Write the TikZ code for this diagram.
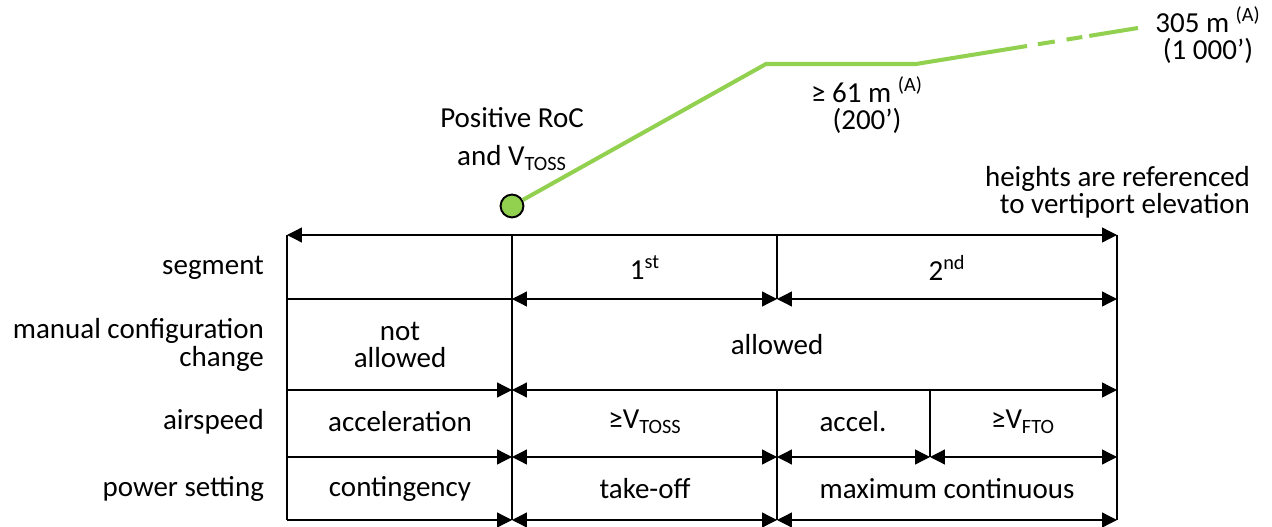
\documentclass[tikz,border=0pt]{standalone}
\usepackage{fontspec}
\setmainfont{Carlito}
\usetikzlibrary{arrows.meta}
\definecolor{climbgreen}{RGB}{146,208,80}
\begin{document}
\begin{tikzpicture}[x=0.02cm,y=-0.02cm,
  font=\fontsize{16.5}{15.5}\selectfont,
  sepline/.style={line width=1.1pt},
  rowline/.style={line width=0.75pt},
  dimboth/.style={rowline,{Triangle[length=8.5pt,width=8.5pt]}-{Triangle[length=8.5pt,width=8.5pt]}},
  dimright/.style={rowline,-{Triangle[length=8.5pt,width=8.5pt]}},
  climb/.style={climbgreen,line width=2.3pt},
  cell/.style={align=center,inner sep=1pt},
  rowlabel/.style={anchor=east,align=right,inner sep=1pt}]
\useasboundingbox (0,0) rectangle (1272,527);
% Grid Corners
\foreach \c/\x in {a/287,b/512,c/777,d/930,e/1117}
  \foreach \r/\y in {0/235,1/299,2/390,3/457,4/520}
    \coordinate (\c\r) at (\x,\y);
% Column Separators
\draw[sepline] (a0) -- (a4);
\draw[sepline] (b0) -- (b4);
\draw[sepline] (c0) -- (c1);
\draw[sepline] (c2) -- (c4);
\draw[sepline] (d2) -- (d3);
\draw[sepline] (e0) -- (e4);
% Dimension Arrows
\draw[dimboth] (a0) -- (e0);
%
\draw[rowline] (a1) -- (b1);
\draw[dimboth] (b1) -- (c1);
\draw[dimboth] (c1) -- (e1);
%
\draw[dimright] (a2) -- (b2);
\draw[dimboth] (b2) -- (e2);
%
\draw[dimright] (a3) -- (b3);
\draw[dimboth] (b3) -- (c3);
\draw[dimboth] (c3) -- (d3);
\draw[dimboth] (d3) -- (e3);
%
\draw[dimright] (a4) -- (b4);
\draw[dimboth] (b4) -- (c4);
\draw[dimboth] (c4) -- (e4);
% Row Labels
\node[rowlabel] (segLbl) at (266,268) {segment};
\node[rowlabel] (cfgLbl) at (266,345) {manual configuration\\change};
\node[rowlabel] (spdLbl) at (266,422) {airspeed};
\node[rowlabel] (pwrLbl) at (266,489) {power setting};
% Cell Texts
\node[cell] (segOne) at (645,268) {1\textsuperscript{st}};
\node[cell] (segTwo) at (947,268) {2\textsuperscript{nd}};
\node[cell] (cfgNo) at (400,345) {not\\allowed};
\node[cell] (cfgYes) at (777,345) {allowed};
\node[cell] (spdAcc) at (400,422) {acceleration};
\node[cell] (spdToss) at (645,422) {≥V\textsubscript{TOSS}};
\node[cell] (spdAccel) at (853,422) {accel.};
\node[cell] (spdFto) at (1023,422) {≥V\textsubscript{FTO}};
\node[cell] (pwrCont) at (400,489) {contingency};
\node[cell] (pwrTo) at (645,489) {take-off};
\node[cell] (pwrMax) at (947,489) {maximum continuous};
% Flight Path
\coordinate (kneeA) at (766,64);
\coordinate (kneeB) at (916,64);
\coordinate (solidEnd) at (1027,46);
\coordinate (pathEnd) at (1138,28);
\node[circle,draw=black,line width=1.1pt,fill=climbgreen,minimum size=13pt,inner sep=0pt] (liftoff) at (512,206) {};
\draw[climb] (liftoff) -- (kneeA) -- (kneeB) -- (solidEnd);
\draw[climb,dash pattern=on 0pt off 6.3pt on 9.7pt off 6.8pt on 9.1pt off 4pt on 27.3pt] (solidEnd) -- (pathEnd);
% Height Labels
\node[cell] (rocLbl) at (512,139) {Positive RoC\\[6pt]and V\textsubscript{TOSS}};
\node[cell] (firstHt) at (867,105) {≥ 61 m \textsuperscript{(A)}\\(200’)};
\node[cell] (secondHt) at (1208,35) {305 m \textsuperscript{(A)}\\(1 000’)};
\node[rowlabel] (refNote) at (1252,192) {heights are referenced\\to vertiport elevation};
\end{tikzpicture}
\end{document}
